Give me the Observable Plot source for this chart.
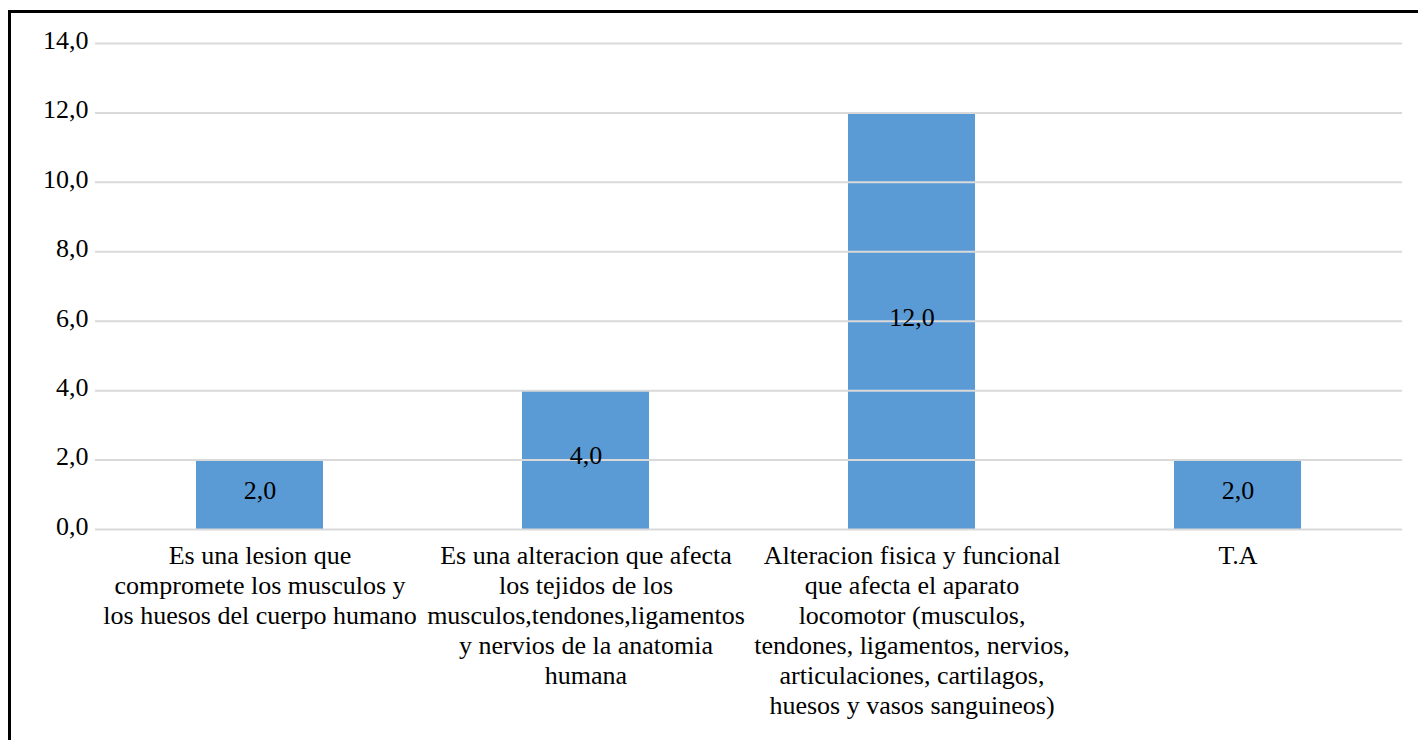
<!DOCTYPE html>
<html>
<head>
<meta charset="utf-8">
<script src="https://cdn.jsdelivr.net/npm/d3@7"></script>
<script src="https://cdn.jsdelivr.net/npm/@observablehq/plot@0.6"></script>
<style>
  html, body { margin: 0; padding: 0; background: #fff; }
  #wrap { position: relative; width: 1418px; height: 740px; overflow: hidden; }
  #frame { position: absolute; left: 8px; top: 10px; width: 1420px; height: 740px;
           border-top: 3px solid #000; border-left: 3px solid #000; box-sizing: border-box; pointer-events: none; }
  #chart { position: absolute; left: 0; top: 0; }
</style>
</head>
<body>
<div id="wrap">
  <div id="chart"></div>
  <div id="frame"></div>
</div>
<script>
const categories = [
  "Es una lesion que compromete los musculos y los huesos del cuerpo humano",
  "Es una alteracion que afecta los tejidos de los musculos,tendones,ligamentos y nervios de la anatomia humana",
  "Alteracion fisica y funcional que afecta el aparato locomotor (musculos, tendones, ligamentos, nervios, articulaciones, cartilagos, huesos y vasos sanguineos)",
  "T.A"
];
const categoryLabels = [
  "Es una lesion que\ncompromete los musculos y\nlos huesos del cuerpo humano",
  "Es una alteracion que afecta\nlos tejidos de los\nmusculos,tendones,ligamentos\ny nervios de la anatomia\nhumana",
  "Alteracion fisica y funcional\nque afecta el aparato\nlocomotor (musculos,\ntendones, ligamentos, nervios,\narticulaciones, cartilagos,\nhuesos y vasos sanguineos)",
  "T.A"
];
const values = [2.0, 4.0, 12.0, 2.0];
const yTicks = [0, 2, 4, 6, 8, 10, 12, 14];

const data = categories.map((c, i) => ({category: c, value: values[i]}));
const labelOf = new Map(categories.map((c, i) => [c, categoryLabels[i]]));
const fmt = d => d.toFixed(1).replace(".", ",");
const serif = "Liberation Serif";

const chart = Plot.plot({
  width: 1418,
  height: 740,
  marginLeft: 95,
  marginRight: 16,
  marginTop: 43,
  marginBottom: 211,
  style: {fontSize: "26px", color: "#000", background: "transparent"},
  x: {domain: categories, paddingInner: 0.61, paddingOuter: 0.305, label: null},
  y: {domain: [0, 14], label: null},
  marks: [
    Plot.barY(data, {x: "category", y: "value", fill: "#5B9BD5"}),
    Plot.ruleY(yTicks, {stroke: "#d9d9d9", strokeWidth: 2}),
    Plot.text(data, {x: "category", y: d => d.value / 2, text: d => fmt(d.value), fill: "#000", fontSize: 26, fontFamily: serif, dy: -4}),
    Plot.axisY({ticks: yTicks, tickFormat: fmt, tickSize: 0, tickPadding: 7, fontSize: 26, fontFamily: serif, dy: -3, label: null, fill: "#000"}),
    Plot.axisX({tickFormat: d => labelOf.get(d), tickSize: 0, tickPadding: 13, fontSize: 26, fontFamily: serif, lineHeight: 1.154, label: null, fill: "#000", textOverflow: null, lineWidth: Infinity})
  ]
});
chart.setAttribute("font-family", serif);
d3.select(chart).selectAll("g, text, tspan").attr("font-family", serif).style("font-family", serif);
document.getElementById("chart").appendChild(chart);
</script>
</body>
</html>
